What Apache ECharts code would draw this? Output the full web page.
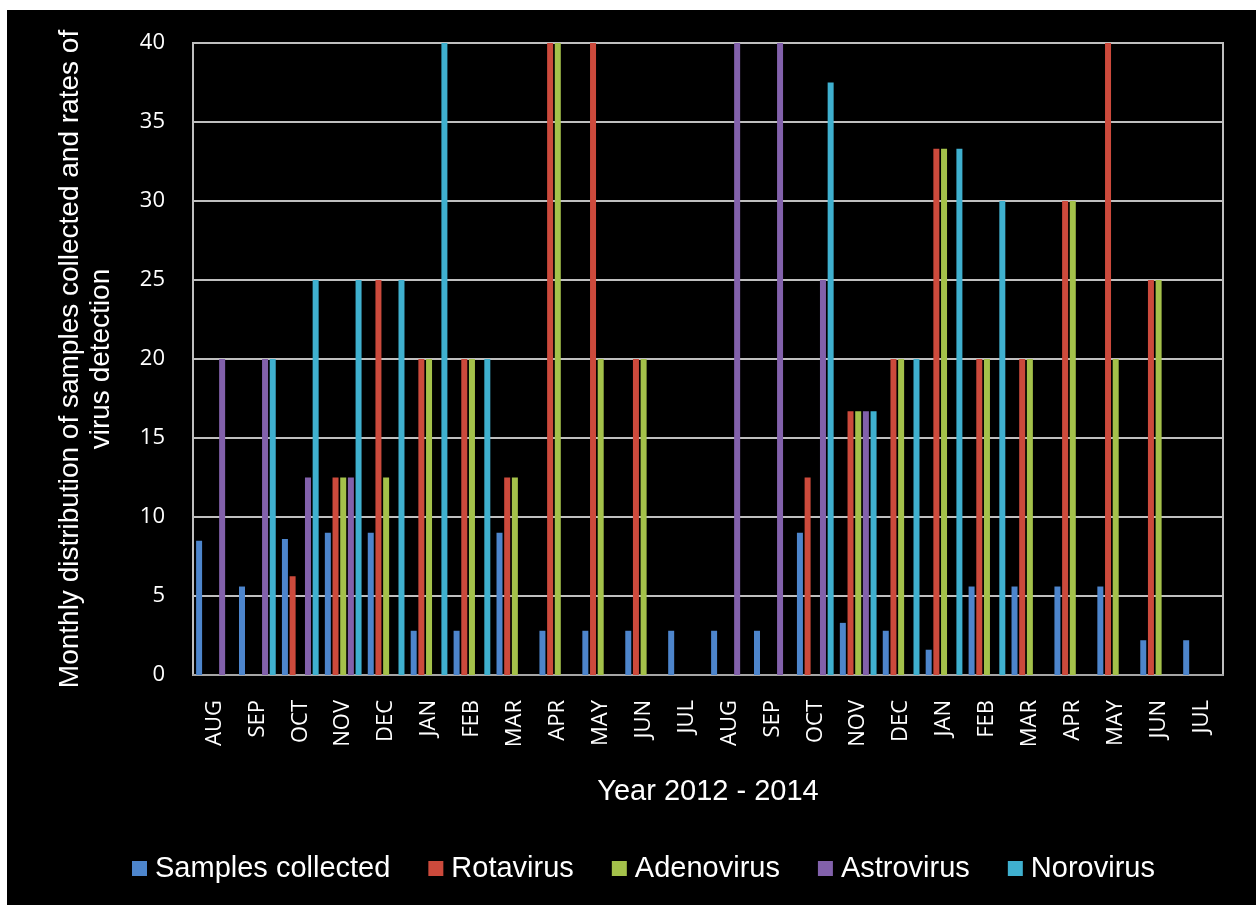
<!DOCTYPE html>
<html>
<head>
<meta charset="utf-8">
<script src="https://cdn.jsdelivr.net/npm/echarts@6/dist/echarts.min.js"></script>
<style>
  html, body { margin: 0; padding: 0; background: #fff; }
  #main { position: absolute; left: 7px; top: 10px; width: 1249px; height: 895px; background: #000; }
</style>
</head>
<body>
<div id="main"></div>
<script>
const months = ['AUG', 'SEP', 'OCT', 'NOV', 'DEC', 'JAN', 'FEB', 'MAR', 'APR', 'MAY', 'JUN', 'JUL',
                'AUG', 'SEP', 'OCT', 'NOV', 'DEC', 'JAN', 'FEB', 'MAR', 'APR', 'MAY', 'JUN', 'JUL'];
const yTicks = [0, 5, 10, 15, 20, 25, 30, 35, 40];

const samples    = [8.5, 5.6, 8.6, 9.0, 9.0, 2.8, 2.8, 9.0, 2.8, 2.8, 2.8, 2.8,
                    2.8, 2.8, 9.0, 3.3, 2.8, 1.6, 5.6, 5.6, 5.6, 5.6, 2.2, 2.2];
const rotavirus  = [0, 0, 6.25, 12.5, 25, 20, 20, 12.5, 40, 40, 20, 0,
                    0, 0, 12.5, 16.7, 20, 33.3, 20, 20, 30, 40, 25, 0];
const adenovirus = [0, 0, 0, 12.5, 12.5, 20, 20, 12.5, 40, 20, 20, 0,
                    0, 0, 0, 16.7, 20, 33.3, 20, 20, 30, 20, 25, 0];
const astrovirus = [20, 20, 12.5, 12.5, 0, 0, 0, 0, 0, 0, 0, 0,
                    40, 40, 25, 16.7, 0, 0, 0, 0, 0, 0, 0, 0];
const norovirus  = [0, 20, 25, 25, 25, 40, 20, 0, 0, 0, 0, 0,
                    0, 0, 37.5, 16.7, 20, 33.3, 30, 0, 0, 0, 0, 0];

const myChart = echarts.init(document.getElementById('main'));

const barStyle = (name, data, color) => ({
    name: name,
    type: 'bar',
    data: data,
    barWidth: 6,
    barGap: '28%',
    itemStyle: { color: color }
});

option = {
    backgroundColor: '#000',
    animation: false,
    color: ['#4d85cc', '#cc4a3c', '#a4c14a', '#8261ab', '#3fb0cf'],
    legend: {
        left: 120,
        top: 839,
        icon: 'rect',
        itemWidth: 15,
        itemHeight: 15,
        itemGap: 38,
        textStyle: { color: '#fff', fontSize: 29, fontFamily: 'Liberation Sans', padding: [0, 0, 0, 3] },
        data: ['Samples collected', 'Rotavirus', 'Adenovirus', 'Astrovirus', 'Norovirus']
    },
    grid: {
        left: 186,
        top: 33,
        right: 33,
        bottom: 230,
        show: true,
        borderColor: '#bfbfbf',
        borderWidth: 2,
        backgroundColor: 'transparent'
    },
    xAxis: {
        type: 'category',
        data: months,
        name: 'Year 2012 - 2014',
        nameLocation: 'middle',
        nameGap: 102,
        nameTextStyle: { color: '#fff', fontSize: 29, fontFamily: 'Liberation Sans' },
        axisLine: { lineStyle: { color: '#a6a6a6', width: 2 } },
        axisTick: { show: false },
        axisLabel: {
            rotate: 90,
            interval: 0,
            margin: 25,
            color: '#fff',
            fontSize: 22,
            fontFamily: 'Open Sans'
        }
    },
    yAxis: {
        type: 'value',
        min: yTicks[0],
        max: yTicks[yTicks.length - 1],
        interval: 5,
        name: 'Monthly distribution of samples collected and rates of\nvirus detection',
        nameLocation: 'middle',
        nameRotate: 90,
        nameGap: 76,
        nameTextStyle: { color: '#fff', fontSize: 28, fontFamily: 'Liberation Sans', lineHeight: 31 },
        axisLine: { show: true, lineStyle: { color: '#bfbfbf', width: 2 } },
        axisTick: { show: false },
        axisLabel: { color: '#fff', fontSize: 22, fontFamily: 'Open Sans', margin: 28 },
        splitLine: { lineStyle: { color: '#bfbfbf', width: 2 } }
    },
    series: [
        barStyle('Samples collected', samples, '#4d85cc'),
        barStyle('Rotavirus', rotavirus, '#cc4a3c'),
        barStyle('Adenovirus', adenovirus, '#a4c14a'),
        barStyle('Astrovirus', astrovirus, '#8261ab'),
        barStyle('Norovirus', norovirus, '#3fb0cf')
    ]
};

myChart.setOption(option);
</script>
</body>
</html>
